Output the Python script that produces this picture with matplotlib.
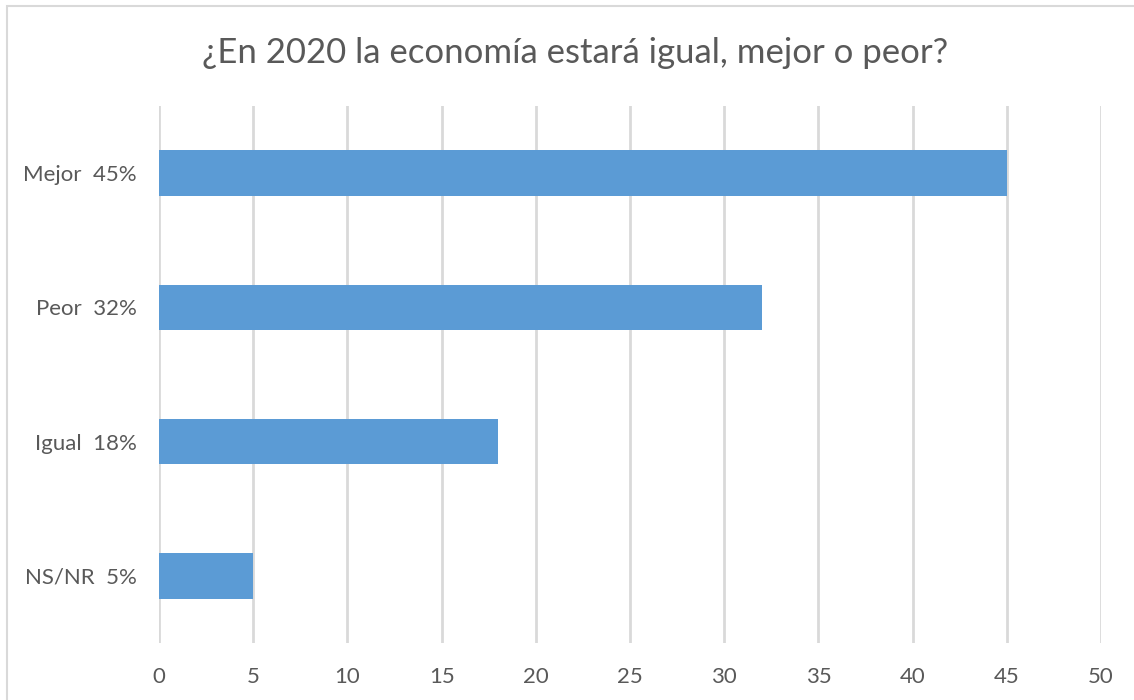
import matplotlib
matplotlib.use("Agg")
import matplotlib.pyplot as plt
from matplotlib.patches import Rectangle

categories = ["Mejor  45%", "Peor  32%", "Igual  18%", "NS/NR  5%"]
values = [45, 32, 18, 5]
xticks = [0, 5, 10, 15, 20, 25, 30, 35, 40, 45, 50]

plt.rcParams['font.family'] = ['Lato', 'DejaVu Sans']
text_color = '#595959'
grid_color = '#d9d9d9'

W, H = 1134, 700
fig = plt.figure(figsize=(W / 100, H / 100), dpi=100)

# outer chart border (only left and top edges are inside the picture)
fig.patches.append(Rectangle((7 / W, -0.05), 1.1, 1 - 6 / H + 0.05,
                             transform=fig.transFigure, fill=False,
                             edgecolor=grid_color, linewidth=1.5))

ax = fig.add_axes([159 / W, 1 - 643 / H, (1101 - 159) / W, (643 - 106) / H])
ypos = list(range(len(categories)))[::-1]
ax.barh(ypos, values, height=0.34, color='#5B9BD5', zorder=3)
ax.set_ylim(-0.5, len(categories) - 0.5)
ax.set_xlim(0, 50)
ax.set_xticks(xticks)
ax.set_yticks(ypos)
ax.set_yticklabels(categories)
for s in ax.spines.values():
    s.set_visible(False)
ax.grid(axis='x', color=grid_color, linewidth=2, zorder=0)
ax.tick_params(length=0, labelsize=16, colors=text_color)
ax.tick_params(axis='y', pad=16)
ax.tick_params(axis='x', pad=17)

fig.text(575 / W, 1 - 53 / H, "¿En 2020 la economía estará igual, mejor o peor?",
         ha='center', va='center', fontsize=25, color=text_color)

fig.savefig("out.png", dpi=100)
